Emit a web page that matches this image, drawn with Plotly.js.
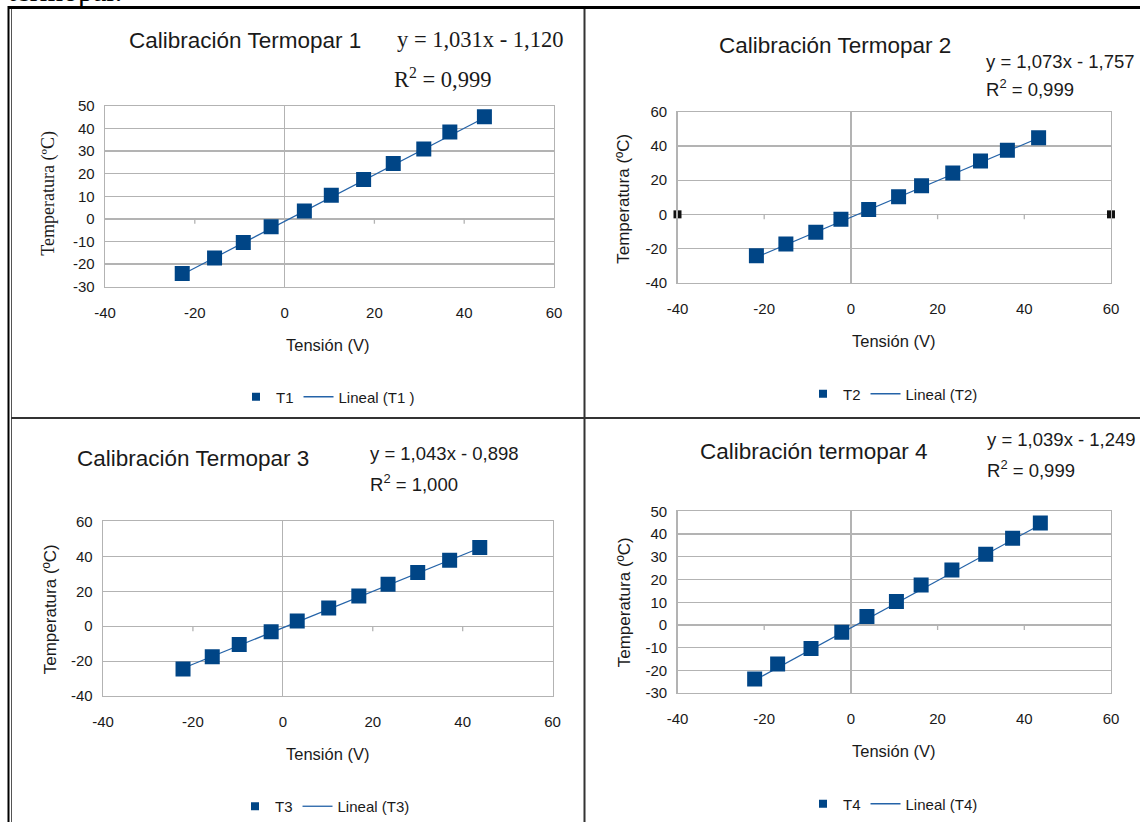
<!DOCTYPE html>
<html>
<head>
<meta charset="utf-8">
<script src="https://cdn.plot.ly/plotly-3.0.1.min.js"></script>
<style>
  html, body { margin: 0; padding: 0; background: #ffffff; }
  #chart { width: 1140px; height: 823px; }
</style>
</head>
<body>
<div id="chart"></div>
<script>
// ---------------- DATA ----------------
const seriesNames = ["T1", "T2", "T3", "T4"];
const trendNames = ["Lineal (T1 )", "Lineal (T2)", "Lineal (T3)", "Lineal (T4)"];
const chartTitles = ["Calibración Termopar 1", "Calibración Termopar 2", "Calibración Termopar 3", "Calibración termopar 4"];
const equationTexts = ["y = 1,031x - 1,120", "y = 1,073x - 1,757", "y = 1,043x - 0,898", "y = 1,039x - 1,249"];
const r2Texts = ["R<sup>2</sup> = 0,999", "R<sup>2</sup> = 0,999", "R<sup>2</sup> = 1,000", "R<sup>2</sup> = 0,999"];
const xAxisTitle = "Tensión (V)";
const yAxisTitle = "Temperatura (ºC)";
const topText = "termopar.";

const tensionT1 = [-22.8, -15.6, -9.2, -3.0, 4.4, 10.4, 17.6, 24.2, 31.0, 36.8, 44.5];
const tempT1    = [-24.2, -17.3, -10.5, -3.5, 3.5, 10.4, 17.4, 24.5, 30.9, 38.4, 45.2];
const tensionT2 = [-21.8, -15.0, -8.1, -2.3, 4.1, 11.0, 16.3, 23.5, 29.9, 36.1, 43.3];
const tempT2    = [-24.3, -17.3, -10.5, -2.9, 2.9, 10.3, 16.7, 24.2, 31.2, 37.5, 44.9];
const tensionT3 = [-22.2, -15.7, -9.7, -2.6, 3.2, 10.2, 16.9, 23.4, 30.0, 37.1, 43.8];
const tempT3    = [-24.4, -17.5, -10.5, -3.2, 3.0, 10.5, 17.3, 24.0, 30.7, 37.8, 45.0];
const tensionT4 = [-22.2, -16.9, -9.2, -2.1, 3.7, 10.5, 16.2, 23.3, 31.1, 37.3, 43.7];
const tempT4    = [-23.8, -17.2, -10.3, -3.2, 3.7, 10.3, 17.6, 24.2, 31.1, 38.2, 44.9];

const slopes = [1.031, 1.073, 1.043, 1.039];
const intercepts = [-1.120, -1.757, -0.898, -1.249];

const xRange = [-40, 60];
const xTicks = [-40, -20, 0, 20, 40, 60];
const yRanges = [[-30, 50], [-40, 60], [-40, 60], [-30, 50]];
const yDticks = [10, 20, 20, 10];

// stray handle marks seen on chart 2's zero line
const handleX2 = [-40, 60];
const handleY2 = [0, 0];

// ---------------- LAYOUT HELPERS ----------------
const W = 1140, H = 823;
const px = v => v / W;
const py = v => 1 - v / H;

const tensions = [tensionT1, tensionT2, tensionT3, tensionT4];
const temps = [tempT1, tempT2, tempT3, tempT4];

// plot-area rectangles in pixels [left, top, right, bottom]
const plotBoxes = [
  [105, 106, 554, 287],
  [677.5, 112, 1111, 283],
  [103, 522, 552.6, 697],
  [677.5, 512, 1111, 694]
];

const SANS = "Liberation Sans, Arial, sans-serif";
const SERIF = "Liberation Serif, Times New Roman, serif";
const MARK = "#004586";
const LINE = "#2463a8";
const GRID = "#b3b3b3";
const TXT = "#1a1a1a";

const data = [];
const layout = {
  width: W, height: H,
  margin: {l: 0, r: 0, t: 0, b: 0},
  paper_bgcolor: "#ffffff",
  plot_bgcolor: "#ffffff",
  showlegend: true,
  annotations: [],
  shapes: []
};

for (let i = 0; i < 4; i++) {
  const n = i + 1;
  const xa = n === 1 ? "x" : "x" + n;
  const ya = n === 1 ? "y" : "y" + n;
  const legendId = n === 1 ? "legend" : "legend" + n;
  const b = plotBoxes[i];

  layout["xaxis" + (n === 1 ? "" : n)] = {
    domain: [px(b[0]), px(b[2])],
    anchor: ya,
    range: xRange,
    tickvals: xTicks,
    ticktext: xTicks.map(String),
    showgrid: false,
    zeroline: true, zerolinecolor: GRID, zerolinewidth: 1.3,
    showline: true, mirror: true, linecolor: GRID, linewidth: 1.3,
    ticks: "",
    ticklabelstandoff: 12,
    tickfont: {family: SANS, size: 15, color: TXT},
    fixedrange: true
  };
  const yr = yRanges[i];
  const yt = [];
  for (let v = yr[0]; v <= yr[1]; v += yDticks[i]) yt.push(v);
  layout["yaxis" + (n === 1 ? "" : n)] = {
    domain: [py(b[3]), py(b[1])],
    anchor: xa,
    range: yr,
    tickvals: yt,
    ticktext: yt.map(String),
    showgrid: true, gridcolor: GRID, gridwidth: 1.3,
    zeroline: false,
    showline: true, mirror: true, linecolor: GRID, linewidth: 1.3,
    ticks: "",
    ticklabelstandoff: 6,
    tickfont: {family: SANS, size: 15, color: TXT},
    fixedrange: true
  };

  // small tick marks on the zero line (x axis crosses at y = 0)
  xTicks.filter(t => t > xRange[0] && t < xRange[1] && t !== 0).forEach(t => {
    layout.shapes.push({
      type: "line", xref: xa, yref: ya,
      x0: t, x1: t, ysizemode: "pixel", yanchor: 0, y0: 0, y1: -5,
      line: {color: GRID, width: 1.3}
    });
  });

  // trend line from fit coefficients
  const xs = tensions[i];
  const xmin = Math.min(...xs), xmax = Math.max(...xs);
  const tx = [xmin, xmax];
  const ty = tx.map(v => slopes[i] * v + intercepts[i]);
  data.push({
    x: tx, y: ty, xaxis: xa, yaxis: ya, mode: "lines",
    line: {color: LINE, width: 1.2}, showlegend: false, hoverinfo: "skip"
  });
  // data markers
  data.push({
    x: xs, y: temps[i], xaxis: xa, yaxis: ya, mode: "markers",
    marker: {symbol: "square", size: 15, color: MARK},
    name: seriesNames[i], showlegend: false
  });
  if (n === 2) {
    data.push({
      x: handleX2, y: handleY2, xaxis: xa, yaxis: ya, mode: "markers",
      marker: {symbol: "square", size: 8, color: "#111"},
      cliponaxis: false, showlegend: false, hoverinfo: "skip"
    });
  }
  // legend entries
  data.push({
    x: [null], y: [null], xaxis: xa, yaxis: ya, mode: "markers",
    marker: {symbol: "square", size: 8, color: MARK},
    name: seriesNames[i], legend: legendId
  });
  data.push({
    x: [null], y: [null], xaxis: xa, yaxis: ya, mode: "lines",
    line: {color: LINE, width: 1.3},
    name: trendNames[i], legend: legendId
  });
}

// legends
const legendPos = [[328, 397], [893, 394], [325, 807], [893, 804]];
legendPos.forEach((p, i) => {
  const key = i === 0 ? "legend" : "legend" + (i + 1);
  layout[key] = {
    orientation: "h", x: px(p[0]), y: py(p[1]),
    xanchor: "center", yanchor: "middle",
    bgcolor: "rgba(0,0,0,0)",
    font: {family: SANS, size: 15, color: TXT},
    itemclick: false, itemdoubleclick: false
  };
});

// text annotations
const titlePos = [[127, 41], [717, 46], [75, 459], [698, 452]];
const eqPos = [[395, 40], [984, 62], [368, 454], [985, 440]];
const r2Pos = [[392, 78], [984, 88], [368, 484], [985, 470]];
const yTitlePos = [[49, 194], [624, 199], [50, 610], [624, 603]];
const xTitlePos = [[327, 345], [893, 341], [327, 755], [893, 752]];

function ann(text, x, y, font, extra) {
  return Object.assign({
    text: text, x: px(x), y: py(y), xref: "paper", yref: "paper",
    xanchor: "left", yanchor: "middle", showarrow: false, font: font
  }, extra || {});
}

for (let i = 0; i < 4; i++) {
  const serif = i === 0;
  layout.annotations.push(ann(chartTitles[i], titlePos[i][0], titlePos[i][1],
    {family: SANS, size: 22.5, color: TXT}));
  layout.annotations.push(ann(equationTexts[i], eqPos[i][0], eqPos[i][1],
    serif ? {family: SERIF, size: 22.5, color: TXT} : {family: SANS, size: 18.5, color: TXT}));
  layout.annotations.push(ann(r2Texts[i], r2Pos[i][0], r2Pos[i][1],
    serif ? {family: SERIF, size: 22.5, color: TXT} : {family: SANS, size: 18.5, color: TXT}));
  layout.annotations.push(ann(yAxisTitle, yTitlePos[i][0], yTitlePos[i][1],
    serif ? {family: SERIF, size: 18, color: TXT} : {family: SANS, size: 17, color: TXT},
    {xanchor: "center", textangle: -90}));
  layout.annotations.push(ann(xAxisTitle, xTitlePos[i][0], xTitlePos[i][1],
    {family: SANS, size: 16.5, color: TXT}, {xanchor: "center"}));
}
// clipped caption text above the table
layout.annotations.push(ann(topText, 7, 8.5, {family: SERIF, size: 30, color: "#000"},
  {yanchor: "bottom", borderpad: 0}));

// table borders
const borders = [
  {x0: 8, y0: 7.5, x1: 1140, y1: 7.5, w: 3, c: "#000"},
  {x0: 8.5, y0: 6, x1: 8.5, y1: 823, w: 2, c: "#000"},
  {x0: 11.5, y0: 9, x1: 11.5, y1: 823, w: 1, c: "#555"},
  {x0: 584.5, y0: 9, x1: 584.5, y1: 823, w: 2, c: "#333"},
  {x0: 11, y0: 418.5, x1: 1140, y1: 418.5, w: 2, c: "#333"}
];
borders.forEach(b => layout.shapes.push({
  type: "line", xref: "paper", yref: "paper",
  x0: px(b.x0), x1: px(b.x1), y0: py(b.y0), y1: py(b.y1),
  line: {color: b.c, width: b.w}, layer: "above"
}));

Plotly.newPlot("chart", data, layout, {staticPlot: true, displayModeBar: false});
</script>
</body>
</html>
